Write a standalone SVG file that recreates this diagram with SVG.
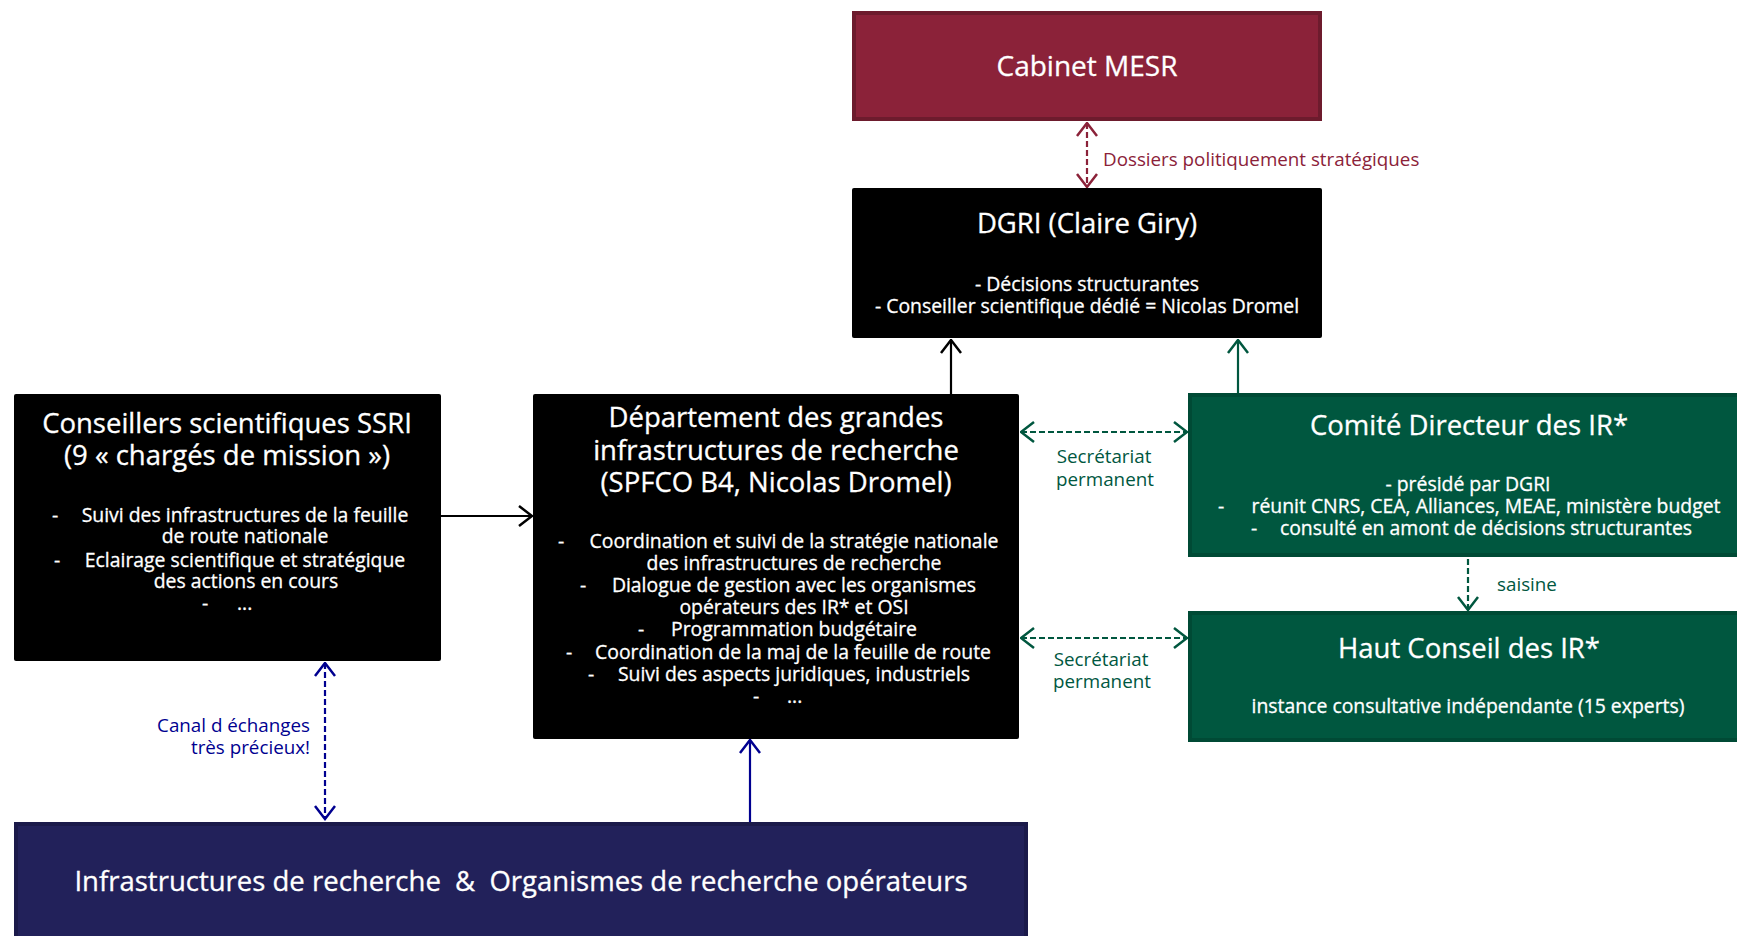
<svg xmlns="http://www.w3.org/2000/svg" width="1737" height="936" viewBox="0 0 1737 936">
<defs>
<style>
text{font-family:"Open Sans","Noto Sans","DejaVu Sans",sans-serif;}
.w{fill:#ffffff;stroke:#ffffff;stroke-width:0.3;}
.t{font-size:27.5px;text-anchor:middle;}
.b{font-size:19.4px;}
.m{text-anchor:middle;}
.lblr{fill:#8B2239;font-size:18.8px;}
.lblg{fill:#00573F;font-size:18.8px;}
.lbln{fill:#000090;font-size:18.8px;}
.pre{white-space:pre;}
</style>
<marker id="ak" viewBox="0 0 16 24" refX="14.5" refY="12" markerWidth="16" markerHeight="24" markerUnits="userSpaceOnUse" orient="auto-start-reverse"><path d="M1.5,2 L14.5,12 L1.5,22" fill="none" stroke="#000000" stroke-width="2.5"/></marker>
<marker id="ar" viewBox="0 0 16 24" refX="14.5" refY="12" markerWidth="16" markerHeight="24" markerUnits="userSpaceOnUse" orient="auto-start-reverse"><path d="M1.5,2 L14.5,12 L1.5,22" fill="none" stroke="#8B2239" stroke-width="2.5"/></marker>
<marker id="ag" viewBox="0 0 16 24" refX="14.5" refY="12" markerWidth="16" markerHeight="24" markerUnits="userSpaceOnUse" orient="auto-start-reverse"><path d="M1.5,2 L14.5,12 L1.5,22" fill="none" stroke="#00573F" stroke-width="2.5"/></marker>
<marker id="an" viewBox="0 0 16 24" refX="14.5" refY="12" markerWidth="16" markerHeight="24" markerUnits="userSpaceOnUse" orient="auto-start-reverse"><path d="M1.5,2 L14.5,12 L1.5,22" fill="none" stroke="#000090" stroke-width="2.5"/></marker>
</defs>
<rect width="1737" height="936" fill="#ffffff"/>

<g id="connectors" fill="none" stroke-width="2.2">
<line x1="1087" y1="123" x2="1087" y2="187" stroke="#8B2239" stroke-dasharray="6,3" marker-start="url(#ar)" marker-end="url(#ar)"/>
<line x1="951" y1="394" x2="951" y2="340" stroke="#000000" marker-end="url(#ak)"/>
<line x1="1238" y1="393" x2="1238" y2="340" stroke="#00573F" marker-end="url(#ag)"/>
<line x1="441" y1="516" x2="532" y2="516" stroke="#000000" marker-end="url(#ak)"/>
<line x1="1021" y1="432" x2="1187" y2="432" stroke="#00573F" stroke-dasharray="6,3" marker-start="url(#ag)" marker-end="url(#ag)"/>
<line x1="1021" y1="638" x2="1187" y2="638" stroke="#00573F" stroke-dasharray="6,3" marker-start="url(#ag)" marker-end="url(#ag)"/>
<line x1="1468" y1="559" x2="1468" y2="610" stroke="#00573F" stroke-dasharray="6,3" marker-end="url(#ag)"/>
<line x1="325" y1="663" x2="325" y2="819" stroke="#000090" stroke-dasharray="6,3" marker-start="url(#an)" marker-end="url(#an)"/>
<line x1="750" y1="822" x2="750" y2="740" stroke="#000090" marker-end="url(#an)"/>
<text class="lblr" x="1103" y="166">Dossiers politiquement stratégiques</text>
<text class="lblg m" x="1104" y="463">Secrétariat</text>
<text class="lblg m" x="1105" y="486">permanent</text>
<text class="lblg m" x="1101" y="666">Secrétariat</text>
<text class="lblg m" x="1102" y="688">permanent</text>
<text class="lblg" x="1497" y="591">saisine</text>
<text class="lbln" x="310" y="732" text-anchor="end">Canal d échanges</text>
<text class="lbln" x="310" y="754" text-anchor="end">très précieux!</text>
</g>

<g id="cabinet">
<rect x="854" y="13" width="466" height="106" fill="#8B2239" stroke="#6D1B2D" stroke-width="4"/>
<text class="w t" x="1087" y="76" style="font-size:28px">Cabinet MESR</text>
</g>

<g id="dgri">
<rect x="852" y="188" width="470" height="150" rx="2" fill="#000000"/>
<text class="w t" x="1087" y="233">DGRI (Claire Giry)</text>
<text class="w b m" x="1087" y="291">- Décisions structurantes</text>
<text class="w b m" x="1087" y="313">- Conseiller scientifique dédié = Nicolas Dromel</text>
</g>

<g id="conseillers">
<rect x="14" y="394" width="427" height="267" rx="2" fill="#000000"/>
<text class="w t" x="227" y="433">Conseillers scientifiques SSRI</text>
<text class="w t" x="227" y="465">(9 « chargés de mission »)</text>
<text class="w b" x="52" y="522">-</text>
<text class="w b m" x="245" y="522">Suivi des infrastructures de la feuille</text>
<text class="w b m" x="245" y="543">de route nationale</text>
<text class="w b" x="54" y="567">-</text>
<text class="w b m" x="245" y="567">Eclairage scientifique et stratégique</text>
<text class="w b m" x="246" y="588">des actions en cours</text>
<text class="w b" x="202" y="610">-</text>
<text class="w b" x="237" y="610">...</text>
</g>

<g id="departement">
<rect x="533" y="394" width="486" height="345" rx="2" fill="#000000"/>
<text class="w t" x="776" y="427">Département des grandes</text>
<text class="w t" x="776" y="460">infrastructures de recherche</text>
<text class="w t" x="776" y="492">(SPFCO B4, Nicolas Dromel)</text>
<text class="w b" x="558" y="547.5">-</text>
<text class="w b m" x="794" y="547.5">Coordination et suivi de la stratégie nationale</text>
<text class="w b m" x="794" y="569.7">des infrastructures de recherche</text>
<text class="w b" x="580" y="591.9">-</text>
<text class="w b m" x="794" y="591.9">Dialogue de gestion avec les organismes</text>
<text class="w b m" x="794" y="614.1">opérateurs des IR* et OSI</text>
<text class="w b" x="638" y="636.3">-</text>
<text class="w b m" x="794" y="636.3">Programmation budgétaire</text>
<text class="w b" x="566" y="658.5">-</text>
<text class="w b m" x="793" y="658.5">Coordination de la maj de la feuille de route</text>
<text class="w b" x="588" y="680.7">-</text>
<text class="w b m" x="794" y="680.7">Suivi des aspects juridiques, industriels</text>
<text class="w b" x="753" y="702.9">-</text>
<text class="w b" x="787" y="702.9">...</text>
</g>

<g id="comite">
<rect x="1190" y="395" width="570" height="160" fill="#00573F" stroke="#004A35" stroke-width="4"/>
<text class="w t" x="1469" y="435">Comité Directeur des IR*</text>
<text class="w b m" x="1468" y="491">- présidé par DGRI</text>
<text class="w b" x="1218" y="513">-</text>
<text class="w b m" x="1486" y="513">réunit CNRS, CEA, Alliances, MEAE, ministère budget</text>
<text class="w b" x="1251" y="535">-</text>
<text class="w b m" x="1486" y="535">consulté en amont de décisions structurantes</text>
</g>

<g id="haut-conseil">
<rect x="1190" y="613" width="570" height="127" fill="#00573F" stroke="#004A35" stroke-width="4"/>
<text class="w t" x="1469" y="658">Haut Conseil des IR*</text>
<text class="w b m" x="1468" y="713">instance consultative indépendante (15 experts)</text>
</g>

<g id="infrastructures">
<rect x="16" y="824" width="1010" height="130" fill="#22215A" stroke="#1B1A4A" stroke-width="4"/>
<text class="w t pre" x="521" y="891">Infrastructures de recherche  &amp;  Organismes de recherche opérateurs</text>
</g>
</svg>
